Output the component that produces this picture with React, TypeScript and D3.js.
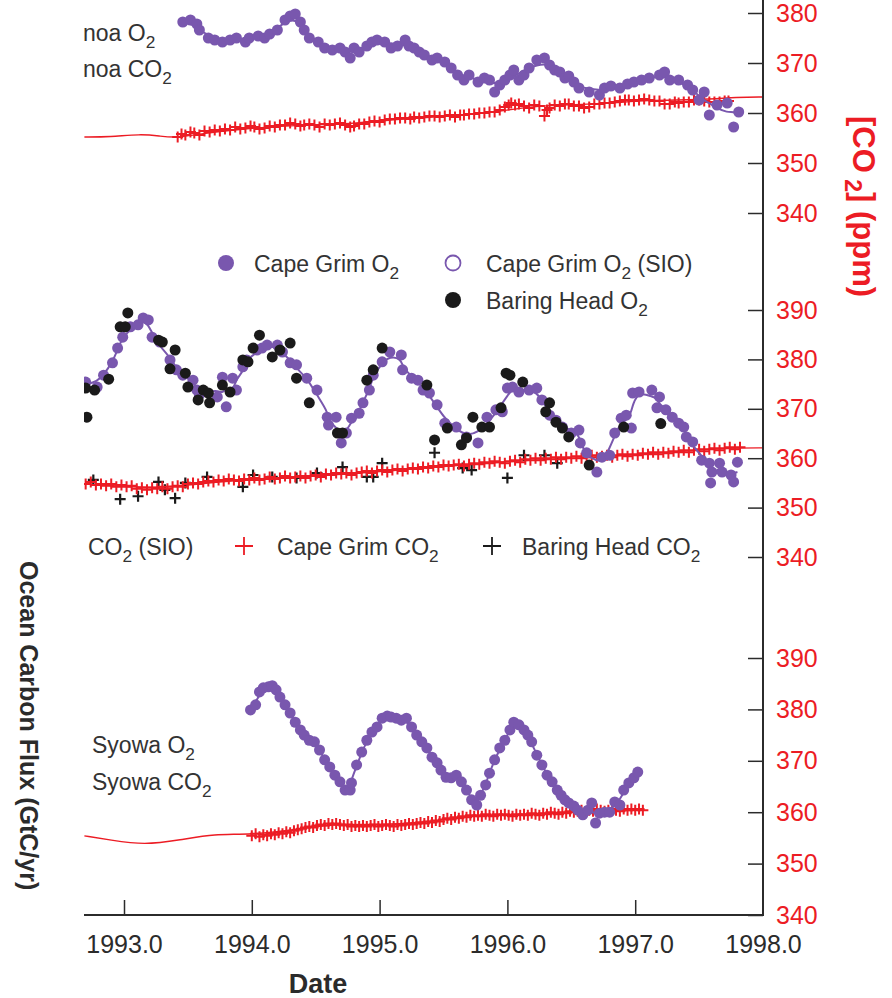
import React, { useEffect, useRef } from 'react';
import * as d3 from 'd3';

type Pt = [number, number];

const yearTicks = [1993, 1994, 1995, 1996, 1997, 1998];
const topTicks = [340, 350, 360, 370, 380];
const midTicks = [340, 350, 360, 370, 380, 390];
const lowTicks = [340, 350, 360, 370, 380, 390];

// Mauna Loa (top panel)
const maunaLoaO2: Pt[] = [
  [1993.46, 378.2], [1993.52, 378.6], [1993.57, 377.8], [1993.59, 376.6], [1993.66, 375.0], [1993.71, 374.6],
  [1993.77, 374.2], [1993.83, 374.6], [1993.88, 375.0], [1993.95, 374.2], [1993.98, 375.0], [1994.05, 375.4],
  [1994.10, 375.0], [1994.14, 375.8], [1994.20, 376.6], [1994.26, 378.6], [1994.30, 379.4], [1994.34, 379.8],
  [1994.38, 378.2], [1994.41, 376.6], [1994.45, 375.0], [1994.52, 374.2], [1994.57, 373.0], [1994.63, 372.6],
  [1994.69, 373.0], [1994.73, 372.2], [1994.77, 371.0], [1994.80, 373.0], [1994.84, 372.2], [1994.90, 373.4],
  [1994.94, 374.2], [1994.98, 374.6], [1995.04, 374.2], [1995.09, 373.0], [1995.14, 373.4], [1995.20, 374.6],
  [1995.23, 373.4], [1995.27, 373.0], [1995.31, 372.2], [1995.35, 371.6], [1995.41, 370.6], [1995.45, 371.0],
  [1995.51, 370.2], [1995.56, 369.0], [1995.61, 367.6], [1995.66, 366.6], [1995.70, 367.6], [1995.77, 366.2],
  [1995.82, 367.0], [1995.86, 366.6], [1995.90, 364.2], [1995.94, 365.6], [1995.98, 366.6], [1996.02, 367.6],
  [1996.05, 368.6], [1996.09, 366.6], [1996.13, 367.6], [1996.17, 369.0], [1996.23, 370.6], [1996.29, 371.0],
  [1996.33, 369.6], [1996.37, 368.6], [1996.41, 368.2], [1996.45, 367.0], [1996.48, 367.4], [1996.52, 366.2],
  [1996.56, 365.0], [1996.64, 364.2], [1996.72, 363.6], [1996.76, 365.0], [1996.81, 365.4], [1996.88, 365.0],
  [1996.94, 365.8], [1996.99, 366.2], [1997.05, 366.6], [1997.11, 367.0], [1997.19, 367.6], [1997.23, 368.2],
  [1997.27, 366.6], [1997.34, 366.6], [1997.41, 365.6], [1997.45, 364.6], [1997.50, 362.6], [1997.54, 364.2],
  [1997.58, 359.6], [1997.64, 361.6], [1997.72, 362.0], [1997.77, 357.2], [1997.81, 360.2],
];
const maunaLoaCO2: Pt[] = [
  [1993.42, 355.2], [1993.45, 355.8], [1993.48, 355.6], [1993.52, 356.2], [1993.55, 356.0], [1993.59, 355.6],
  [1993.63, 356.4], [1993.67, 356.2], [1993.71, 356.6], [1993.75, 356.4], [1993.79, 356.8], [1993.83, 356.6],
  [1993.87, 357.2], [1993.91, 356.8], [1993.95, 357.0], [1993.99, 357.4], [1994.02, 357.2], [1994.06, 356.8],
  [1994.10, 357.0], [1994.14, 357.4], [1994.18, 357.2], [1994.22, 357.6], [1994.26, 357.6], [1994.30, 358.0],
  [1994.34, 357.8], [1994.38, 357.4], [1994.41, 357.6], [1994.45, 357.8], [1994.49, 357.6], [1994.53, 357.2],
  [1994.57, 357.8], [1994.61, 357.6], [1994.65, 357.8], [1994.69, 358.0], [1994.73, 357.6], [1994.77, 357.2],
  [1994.80, 357.4], [1994.84, 357.8], [1994.88, 357.8], [1994.92, 358.2], [1994.96, 358.4], [1995.00, 358.2],
  [1995.04, 358.6], [1995.08, 358.8], [1995.12, 358.8], [1995.16, 359.0], [1995.20, 359.0], [1995.24, 358.8],
  [1995.27, 359.2], [1995.31, 359.0], [1995.35, 359.2], [1995.39, 359.4], [1995.43, 359.4], [1995.47, 359.2],
  [1995.51, 359.4], [1995.55, 359.6], [1995.59, 359.2], [1995.63, 359.6], [1995.66, 359.6], [1995.70, 359.8],
  [1995.74, 359.8], [1995.78, 360.0], [1995.82, 360.0], [1995.86, 360.2], [1995.90, 360.2], [1995.94, 360.6],
  [1995.98, 361.2], [1996.01, 361.6], [1996.03, 362.0], [1996.06, 361.6], [1996.09, 361.8], [1996.13, 361.4],
  [1996.17, 361.0], [1996.21, 361.6], [1996.25, 361.4], [1996.29, 359.4], [1996.31, 360.6], [1996.33, 361.0],
  [1996.37, 361.6], [1996.41, 361.4], [1996.45, 361.8], [1996.48, 361.8], [1996.52, 361.4], [1996.56, 361.4],
  [1996.60, 361.0], [1996.64, 361.2], [1996.68, 361.8], [1996.72, 361.8], [1996.76, 362.0], [1996.80, 362.0],
  [1996.84, 362.2], [1996.88, 362.4], [1996.92, 362.6], [1996.95, 362.6], [1996.99, 362.4], [1997.03, 362.6],
  [1997.07, 362.8], [1997.11, 362.6], [1997.15, 362.4], [1997.19, 362.4], [1997.23, 361.8], [1997.27, 361.8],
  [1997.31, 362.2], [1997.34, 362.0], [1997.38, 362.2], [1997.42, 362.2], [1997.46, 362.6], [1997.50, 362.6],
  [1997.54, 362.4], [1997.58, 362.2], [1997.62, 362.2], [1997.66, 362.2], [1997.70, 362.4], [1997.73, 362.4],
];
const maunaLoaCO2Fit: Pt[] = [
  [1992.69, 355.2], [1992.89, 355.2], [1993.13, 355.8], [1993.28, 355.4], [1993.40, 355.0], [1993.59, 355.8],
  [1993.98, 357.0], [1994.38, 357.6], [1994.77, 357.8], [1995.16, 358.8], [1995.55, 359.4], [1995.94, 360.2],
  [1996.17, 361.4], [1996.72, 361.8], [1997.11, 362.6], [1997.50, 362.6], [1997.81, 363.2], [1998.0, 363.2],
];

// Cape Grim / Baring Head (middle panel)
const capeGrimO2: Pt[] = [
  [1992.70, 375.4], [1992.79, 374.4], [1992.84, 376.8], [1992.91, 379.3], [1992.95, 382.3], [1992.99, 384.5],
  [1993.05, 386.6], [1993.11, 387.0], [1993.15, 388.4], [1993.19, 388.0], [1993.22, 384.5], [1993.28, 383.5],
  [1993.36, 379.9], [1993.41, 377.9], [1993.46, 376.8], [1993.54, 375.8], [1993.57, 373.8], [1993.59, 372.8],
  [1993.73, 372.4], [1993.77, 376.4], [1993.80, 370.4], [1993.85, 376.2], [1993.88, 373.8], [1993.93, 378.5],
  [1993.96, 379.9], [1994.04, 381.9], [1994.08, 382.3], [1994.12, 382.9], [1994.20, 382.9], [1994.24, 381.5],
  [1994.30, 379.3], [1994.35, 378.9], [1994.43, 376.2], [1994.51, 373.8], [1994.59, 368.3], [1994.60, 366.7],
  [1994.66, 368.3], [1994.70, 363.1], [1994.74, 365.1], [1994.78, 368.1], [1994.84, 369.1], [1994.87, 371.2],
  [1994.92, 373.8], [1994.95, 376.8], [1995.02, 379.5], [1995.08, 381.5], [1995.17, 380.9], [1995.18, 377.9],
  [1995.25, 376.2], [1995.30, 375.8], [1995.34, 373.8], [1995.39, 373.2], [1995.45, 370.8], [1995.51, 367.1],
  [1995.60, 366.3], [1995.68, 364.3], [1995.77, 363.1], [1995.84, 368.3], [1995.91, 369.8], [1995.96, 369.4],
  [1996.00, 374.2], [1996.04, 374.4], [1996.09, 373.4], [1996.17, 373.8], [1996.23, 374.2], [1996.27, 371.8],
  [1996.33, 368.7], [1996.38, 367.7], [1996.43, 366.3], [1996.50, 365.1], [1996.56, 365.7], [1996.57, 363.1],
  [1996.62, 361.1], [1996.70, 357.2], [1996.74, 360.2], [1996.80, 360.6], [1996.84, 365.1], [1996.89, 368.1],
  [1996.93, 368.7], [1996.97, 366.1], [1996.98, 373.2], [1997.03, 373.4], [1997.13, 373.8], [1997.17, 370.2],
  [1997.19, 372.4], [1997.24, 369.8], [1997.29, 368.3], [1997.34, 367.1], [1997.38, 366.3], [1997.40, 364.3],
  [1997.45, 363.3], [1997.52, 359.6], [1997.58, 359.0], [1997.59, 355.0], [1997.60, 357.2], [1997.66, 359.0],
  [1997.68, 357.2], [1997.75, 356.6], [1997.77, 355.2], [1997.80, 359.2],
];
const baringHeadO2: Pt[] = [
  [1992.71, 368.3], [1992.70, 374.2], [1992.77, 373.8], [1992.88, 376.0], [1992.97, 386.6], [1993.01, 386.6],
  [1993.03, 389.4], [1993.27, 383.9], [1993.30, 383.5], [1993.40, 381.9], [1993.36, 378.1], [1993.48, 377.2],
  [1993.50, 374.4], [1993.58, 371.8], [1993.62, 373.8], [1993.66, 373.2], [1993.67, 371.2], [1993.77, 374.8],
  [1993.83, 373.4], [1993.93, 379.9], [1993.97, 379.5], [1994.01, 382.3], [1994.06, 384.9], [1994.16, 380.5],
  [1994.22, 381.9], [1994.30, 383.3], [1994.35, 376.2], [1994.45, 371.2], [1994.67, 365.1], [1994.71, 365.1],
  [1994.90, 375.8], [1994.95, 377.9], [1995.02, 382.3], [1995.37, 374.8], [1995.53, 366.1], [1995.43, 363.7],
  [1995.64, 362.7], [1995.68, 364.1], [1995.73, 368.3], [1995.80, 366.3], [1995.86, 366.3], [1995.95, 370.2],
  [1995.99, 377.2], [1996.02, 376.8], [1996.12, 375.4], [1996.33, 371.2], [1996.30, 369.4], [1996.38, 367.3],
  [1996.43, 366.1], [1996.48, 364.3], [1996.64, 358.6], [1996.91, 366.3], [1997.20, 367.0],
];
const capeGrimCO2: Pt[] = [
  [1992.70, 354.8], [1992.74, 355.2], [1992.78, 354.6], [1992.82, 354.8], [1992.86, 354.4], [1992.90, 354.8],
  [1992.94, 354.2], [1992.98, 354.6], [1993.02, 354.2], [1993.06, 354.4], [1993.10, 353.8], [1993.14, 354.0],
  [1993.18, 353.6], [1993.22, 354.0], [1993.26, 353.8], [1993.30, 354.2], [1993.34, 353.8], [1993.38, 354.2],
  [1993.42, 354.4], [1993.46, 354.2], [1993.50, 354.8], [1993.54, 355.0], [1993.58, 354.8], [1993.62, 355.2],
  [1993.66, 355.4], [1993.70, 355.2], [1993.74, 355.6], [1993.78, 355.4], [1993.82, 355.8], [1993.86, 355.6],
  [1993.90, 355.4], [1993.94, 355.8], [1993.98, 355.6], [1994.02, 356.0], [1994.06, 355.6], [1994.10, 355.8],
  [1994.14, 356.2], [1994.18, 355.8], [1994.22, 356.0], [1994.26, 356.4], [1994.30, 356.0], [1994.34, 356.2],
  [1994.38, 356.4], [1994.42, 356.0], [1994.46, 356.4], [1994.50, 356.6], [1994.54, 356.2], [1994.58, 356.8],
  [1994.62, 356.6], [1994.66, 357.0], [1994.70, 356.8], [1994.74, 357.0], [1994.78, 356.6], [1994.82, 357.0],
  [1994.86, 357.2], [1994.90, 357.4], [1994.94, 357.0], [1994.98, 357.4], [1995.02, 357.6], [1995.06, 357.2],
  [1995.10, 357.6], [1995.14, 357.8], [1995.18, 357.4], [1995.22, 357.8], [1995.26, 358.0], [1995.30, 357.8],
  [1995.34, 358.2], [1995.38, 358.0], [1995.42, 358.4], [1995.46, 358.2], [1995.50, 358.6], [1995.54, 358.4],
  [1995.58, 358.6], [1995.62, 358.8], [1995.66, 358.4], [1995.70, 358.8], [1995.74, 359.0], [1995.78, 358.8],
  [1995.82, 359.2], [1995.86, 359.0], [1995.90, 359.4], [1995.94, 359.2], [1995.98, 359.0], [1996.02, 359.4],
  [1996.06, 359.6], [1996.10, 359.2], [1996.14, 359.8], [1996.18, 359.6], [1996.22, 360.0], [1996.26, 359.6],
  [1996.30, 360.0], [1996.34, 359.8], [1996.38, 360.2], [1996.42, 359.8], [1996.46, 360.2], [1996.50, 360.0],
  [1996.54, 360.4], [1996.58, 360.0], [1996.62, 360.2], [1996.66, 360.6], [1996.70, 360.2], [1996.74, 360.4],
  [1996.78, 360.6], [1996.82, 360.2], [1996.86, 360.6], [1996.90, 360.8], [1996.94, 360.4], [1996.98, 360.8],
  [1997.02, 360.6], [1997.06, 361.0], [1997.10, 360.8], [1997.14, 361.2], [1997.18, 360.8], [1997.22, 361.2],
  [1997.26, 361.0], [1997.30, 361.4], [1997.34, 361.2], [1997.38, 361.6], [1997.42, 361.2], [1997.46, 361.6],
  [1997.50, 361.8], [1997.54, 361.4], [1997.58, 361.8], [1997.62, 362.0], [1997.66, 361.6], [1997.70, 362.0],
  [1997.74, 362.2], [1997.78, 361.8], [1997.82, 362.2],
];
const baringHeadCO2: Pt[] = [
  [1992.76, 355.6], [1992.97, 351.7], [1993.11, 352.3], [1993.27, 355.2], [1993.32, 353.6], [1993.40, 351.9],
  [1993.48, 355.0], [1993.65, 356.2], [1993.93, 354.2], [1994.01, 356.6], [1994.16, 356.2], [1994.35, 356.0],
  [1994.51, 357.0], [1994.71, 358.2], [1994.90, 356.2], [1994.95, 356.2], [1995.02, 359.0], [1995.43, 361.1],
  [1995.65, 358.0], [1995.72, 357.6], [1996.00, 356.0], [1996.13, 360.6], [1996.29, 360.6], [1996.39, 359.0],
];
const capeGrimCO2Fit: Pt[] = [
  [1992.69, 354.8], [1993.05, 354.2], [1993.28, 354.0], [1993.59, 354.8], [1993.98, 355.8], [1994.38, 356.2],
  [1994.77, 356.8], [1995.16, 357.6], [1995.55, 358.4], [1995.94, 359.2], [1996.33, 359.8], [1996.72, 360.2],
  [1997.11, 360.9], [1997.50, 361.7], [1997.81, 362.1], [1998.0, 362.1],
];

// Syowa (bottom panel)
const syowaO2: Pt[] = [
  [1993.99, 379.9], [1994.03, 380.9], [1994.06, 383.4], [1994.09, 384.2], [1994.13, 384.4], [1994.16, 384.6],
  [1994.19, 383.8], [1994.22, 382.4], [1994.26, 380.9], [1994.30, 379.3], [1994.34, 377.5], [1994.38, 376.0],
  [1994.41, 375.0], [1994.45, 374.0], [1994.49, 373.7], [1994.53, 372.1], [1994.57, 370.2], [1994.61, 368.8],
  [1994.65, 367.2], [1994.69, 365.9], [1994.73, 364.3], [1994.77, 364.3], [1994.78, 365.7], [1994.82, 369.2],
  [1994.86, 371.7], [1994.90, 374.0], [1994.94, 375.6], [1994.98, 376.6], [1995.02, 378.3], [1995.06, 378.7],
  [1995.09, 378.5], [1995.13, 378.3], [1995.17, 377.9], [1995.21, 378.3], [1995.25, 376.6], [1995.29, 375.0],
  [1995.33, 373.7], [1995.37, 372.5], [1995.41, 370.7], [1995.45, 369.6], [1995.48, 368.2], [1995.52, 366.8],
  [1995.56, 366.7], [1995.60, 367.2], [1995.64, 365.9], [1995.68, 364.3], [1995.72, 362.4], [1995.76, 361.4],
  [1995.79, 363.3], [1995.83, 365.3], [1995.86, 367.6], [1995.90, 370.2], [1995.94, 372.5], [1995.98, 374.0],
  [1996.02, 376.0], [1996.05, 377.5], [1996.09, 377.0], [1996.13, 376.0], [1996.16, 375.0], [1996.19, 373.7],
  [1996.23, 371.1], [1996.27, 369.2], [1996.31, 367.2], [1996.35, 365.9], [1996.39, 364.3], [1996.42, 363.3],
  [1996.45, 362.4], [1996.48, 361.8], [1996.52, 361.2], [1996.55, 360.4], [1996.59, 359.5], [1996.63, 360.4],
  [1996.66, 361.8], [1996.69, 357.9], [1996.72, 359.8], [1996.76, 360.0], [1996.80, 360.0], [1996.84, 362.0],
  [1996.88, 361.4], [1996.91, 364.3], [1996.95, 365.7], [1996.99, 366.7], [1997.02, 367.8],
];
const syowaCO2: Pt[] = [
  [1994.00, 355.4], [1994.03, 355.8], [1994.06, 355.2], [1994.09, 355.6], [1994.12, 355.4], [1994.15, 355.8],
  [1994.18, 355.6], [1994.21, 356.0], [1994.24, 355.8], [1994.27, 356.2], [1994.30, 356.0], [1994.33, 356.4],
  [1994.36, 356.6], [1994.39, 356.8], [1994.42, 357.0], [1994.45, 357.2], [1994.48, 357.0], [1994.51, 357.4],
  [1994.54, 357.6], [1994.57, 357.4], [1994.60, 357.8], [1994.63, 357.6], [1994.66, 357.8], [1994.69, 357.6],
  [1994.72, 357.4], [1994.75, 357.6], [1994.78, 357.2], [1994.81, 357.4], [1994.84, 357.2], [1994.87, 357.4],
  [1994.90, 357.2], [1994.93, 357.4], [1994.96, 357.6], [1994.99, 357.2], [1995.02, 357.4], [1995.05, 357.6],
  [1995.08, 357.4], [1995.11, 357.2], [1995.14, 357.6], [1995.17, 357.4], [1995.20, 357.6], [1995.23, 357.8],
  [1995.26, 357.6], [1995.29, 357.8], [1995.32, 358.0], [1995.35, 357.8], [1995.38, 358.2], [1995.41, 358.0],
  [1995.44, 358.4], [1995.47, 358.2], [1995.50, 358.6], [1995.53, 358.8], [1995.56, 358.6], [1995.59, 359.0],
  [1995.62, 358.8], [1995.65, 359.2], [1995.68, 359.0], [1995.71, 359.4], [1995.74, 359.2], [1995.77, 359.4],
  [1995.80, 359.2], [1995.83, 359.6], [1995.86, 359.4], [1995.89, 359.2], [1995.92, 359.6], [1995.95, 359.4],
  [1995.98, 359.6], [1996.01, 359.4], [1996.04, 359.2], [1996.07, 359.6], [1996.10, 359.4], [1996.13, 359.6],
  [1996.16, 359.4], [1996.19, 359.8], [1996.22, 359.6], [1996.25, 359.4], [1996.28, 359.8], [1996.31, 359.6],
  [1996.34, 360.0], [1996.37, 359.8], [1996.40, 359.6], [1996.43, 360.0], [1996.46, 359.8], [1996.49, 360.2],
  [1996.52, 360.0], [1996.55, 360.2], [1996.58, 360.4], [1996.61, 360.0], [1996.64, 360.4], [1996.67, 360.2],
  [1996.70, 360.6], [1996.73, 360.4], [1996.76, 360.2], [1996.79, 360.4], [1996.82, 360.6], [1996.85, 360.4],
  [1996.88, 360.2], [1996.91, 360.6], [1996.94, 360.4], [1996.97, 360.6], [1997.00, 360.4], [1997.03, 360.6],
  [1997.06, 360.4],
];
const syowaCO2Fit: Pt[] = [
  [1992.69, 355.4], [1992.89, 354.6], [1993.16, 353.6], [1993.44, 354.6], [1993.71, 355.8], [1993.98, 355.6],
  [1994.38, 356.7], [1994.61, 357.7], [1995.00, 357.5], [1995.39, 358.1], [1995.70, 359.3], [1996.09, 359.5],
  [1996.48, 360.0], [1996.72, 360.2], [1997.03, 360.4], [1997.07, 360.4],
];

const PURPLE = '#7957ae';
const RED = '#ec1c24';
const INK = '#2b2b2b';
const FONT = '"Liberation Sans", Arial, Helvetica, sans-serif';

// running mean used to draw the O2 fit curve
const smooth = (pts: Pt[], k: number): Pt[] => {
  const s = [...pts].sort((a, b) => a[0] - b[0]);
  return s.map((p, i) => {
    const w = s.slice(Math.max(0, i - k), i + k + 1);
    return [p[0], d3.mean(w, (d) => d[1]) as number];
  });
};

function O2Chart() {
  const svgRef = useRef<SVGSVGElement>(null);

  useEffect(() => {
    const svg = d3.select(svgRef.current);
    svg.selectAll('*').remove();

    const x = d3.scaleLinear().domain([1993, 1998]).range([124, 763]);
    const axisY = 915;

    svg.append('defs').append('clipPath').attr('id', 'plotclip')
      .append('rect').attr('x', 84).attr('y', 0).attr('width', 681).attr('height', axisY);

    const panels = [
      { y: d3.scaleLinear().domain([340, 380]).range([213, 13]), ticks: topTicks,
        fit: maunaLoaCO2Fit, red: maunaLoaCO2, black: [] as Pt[], o2: maunaLoaO2, k: 2, dark: [] as Pt[] },
      { y: d3.scaleLinear().domain([340, 390]).range([557, 310]), ticks: midTicks,
        fit: capeGrimCO2Fit, red: capeGrimCO2, black: baringHeadCO2, o2: capeGrimO2, k: 1, dark: baringHeadO2 },
      { y: d3.scaleLinear().domain([340, 390]).range([915, 658]), ticks: lowTicks,
        fit: syowaCO2Fit, red: syowaCO2, black: [] as Pt[], o2: syowaO2, k: 1, dark: [] as Pt[] },
    ];

    const plot = svg.append('g').attr('clip-path', 'url(#plotclip)');
    const cross = 'M-5.5,0H5.5M0,-5.5V5.5';

    panels.forEach((p) => {
      const line = d3.line<Pt>().x((d) => x(d[0])).y((d) => p.y(d[1])).curve(d3.curveBasis);

      plot.append('path').attr('d', line(p.fit)).attr('fill', 'none')
        .attr('stroke', RED).attr('stroke-width', 1.4);

      plot.append('g').selectAll('path').data(p.black).join('path')
        .attr('d', cross).attr('transform', (d) => `translate(${x(d[0])},${p.y(d[1])})`)
        .attr('stroke', '#1a1a1a').attr('stroke-width', 2.2).attr('fill', 'none');

      plot.append('g').selectAll('path').data(p.red).join('path')
        .attr('d', cross).attr('transform', (d) => `translate(${x(d[0])},${p.y(d[1])})`)
        .attr('stroke', RED).attr('stroke-width', 2).attr('fill', 'none');

      plot.append('path').attr('d', line(smooth(p.o2, p.k))).attr('fill', 'none')
        .attr('stroke', PURPLE).attr('stroke-width', 2);

      plot.append('g').selectAll('circle').data(p.o2).join('circle')
        .attr('cx', (d) => x(d[0])).attr('cy', (d) => p.y(d[1])).attr('r', 5.5)
        .attr('fill', PURPLE);

      plot.append('g').selectAll('circle').data(p.dark).join('circle')
        .attr('cx', (d) => x(d[0])).attr('cy', (d) => p.y(d[1])).attr('r', 5.5)
        .attr('fill', '#1a1a1a');

      // right-hand CO2 axis, ticks pointing in
      const ax = svg.append('g').attr('transform', 'translate(763,0)')
        .call(d3.axisRight(p.y).tickValues(p.ticks).tickSize(-15).tickPadding(13).tickFormat(d3.format('d')));
      ax.select('.domain').remove();
      ax.selectAll('line').attr('stroke', INK).attr('stroke-width', 1.5);
      ax.selectAll('text').attr('fill', RED).attr('font-size', 25).attr('font-family', FONT);
    });

    svg.append('line').attr('x1', 763).attr('x2', 763).attr('y1', 0).attr('y2', axisY + 1)
      .attr('stroke', INK).attr('stroke-width', 2);

    const xa = svg.append('g').attr('transform', `translate(0,${axisY})`)
      .call(d3.axisBottom(x).tickValues(yearTicks).tickSize(-15).tickPadding(20).tickFormat(d3.format('.1f')));
    xa.select('.domain').remove();
    xa.selectAll('line').attr('stroke', INK).attr('stroke-width', 1.5);
    xa.selectAll('.tick').filter((d) => d === 1998).select('line').remove();
    xa.selectAll('text').attr('fill', INK).attr('font-size', 25).attr('font-family', FONT);
    svg.append('line').attr('x1', 84).attr('x2', 764).attr('y1', axisY).attr('y2', axisY)
      .attr('stroke', INK).attr('stroke-width', 2);

    svg.append('text').attr('x', 318).attr('y', 993).attr('text-anchor', 'middle')
      .attr('font-family', FONT).attr('font-weight', 'bold').attr('font-size', 27).attr('fill', INK)
      .text('Date');

    // text with a subscript "2"
    const sub = (g: any, xp: number, yp: number, pre: string, post: string, size: number, color: string) => {
      const t = g.append('text').attr('x', xp).attr('y', yp).attr('font-family', FONT)
        .attr('font-size', size).attr('fill', color);
      t.append('tspan').text(pre);
      t.append('tspan').attr('font-size', size * 0.75).attr('dy', size * 0.3).text('2');
      if (post) t.append('tspan').attr('dy', -size * 0.3).text(post);
      return t;
    };

    sub(svg, 83, 41, 'noa O', '', 23, '#333');
    sub(svg, 83, 77, 'noa CO', '', 23, '#333');
    sub(svg, 92, 753, 'Syowa O', '', 23, '#333');
    sub(svg, 92, 790, 'Syowa CO', '', 23, '#333');

    // legend
    svg.append('circle').attr('cx', 226).attr('cy', 263).attr('r', 8).attr('fill', PURPLE);
    sub(svg, 254, 272, 'Cape Grim O', '', 23, '#333');
    svg.append('circle').attr('cx', 453).attr('cy', 263).attr('r', 7.5).attr('fill', '#fff')
      .attr('stroke', PURPLE).attr('stroke-width', 1.8);
    sub(svg, 486, 272, 'Cape Grim O', ' (SIO)', 23, '#333');
    svg.append('circle').attr('cx', 453).attr('cy', 300).attr('r', 8).attr('fill', '#1a1a1a');
    sub(svg, 486, 309, 'Baring Head O', '', 23, '#333');

    sub(svg, 88, 555, 'CO', ' (SIO)', 23, '#333');
    svg.append('path').attr('d', 'M-9,0H9M0,-9V9').attr('transform', 'translate(244,546)')
      .attr('stroke', RED).attr('stroke-width', 1.8);
    sub(svg, 277, 555, 'Cape Grim CO', '', 23, '#333');
    svg.append('path').attr('d', 'M-9,0H9M0,-9V9').attr('transform', 'translate(492,546)')
      .attr('stroke', '#1a1a1a').attr('stroke-width', 1.8);
    sub(svg, 522, 555, 'Baring Head CO', '', 23, '#333');

    // axis titles
    const rt = svg.append('text').attr('transform', 'translate(853,116) rotate(90)')
      .attr('font-family', FONT).attr('font-weight', 'bold').attr('font-size', 31).attr('fill', RED);
    rt.append('tspan').text('[CO');
    rt.append('tspan').attr('font-size', 23).attr('dy', 8).text(' 2');
    rt.append('tspan').attr('dy', -8).text('] (ppm)');

    svg.append('text').attr('transform', 'translate(20,561) rotate(90)')
      .attr('font-family', FONT).attr('font-weight', 'bold').attr('font-size', 25).attr('fill', INK)
      .text('Ocean Carbon Flux (GtC/yr)');
  }, []);

  return (
    <svg ref={svgRef} width={892} height={998}
      style={{ position: 'absolute', left: 0, top: 0, background: '#fff' }} />
  );
}

export default function App() {
  return <O2Chart />;
}
